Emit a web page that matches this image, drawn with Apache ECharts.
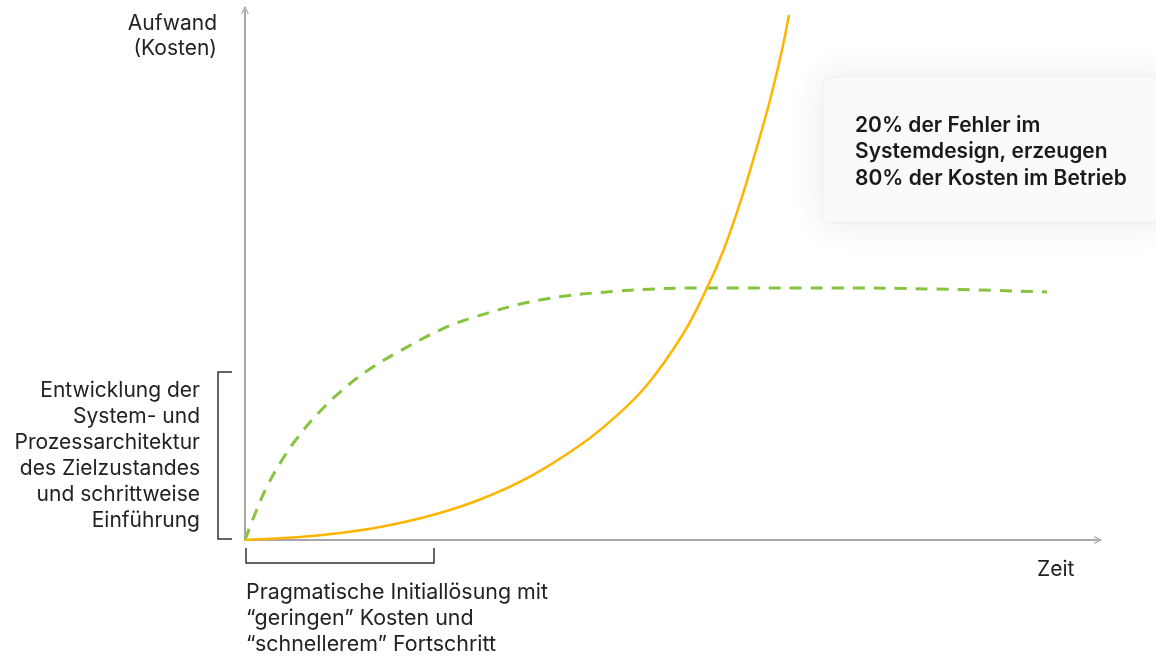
<!DOCTYPE html>
<html>
<head>
<meta charset="utf-8">
<script src="https://cdn.jsdelivr.net/npm/echarts@6/dist/echarts.min.js"></script>
<style>
  html, body { margin: 0; padding: 0; background: #fff; }
  #chart { width: 1156px; height: 657px; }
</style>
</head>
<body>
<div id="chart"></div>
<script>
// Zeit (x) und Aufwand (y), Skala 0..100
const kostenX = [0, 6.45, 11.14, 15.83, 21.69, 27.55, 33.41, 39.27, 43.14, 47.13, 51.35, 54.16, 56.15, 58.15, 59.91, 61.55, 62.95, 63.77];
const kostenY = [0, 0.57, 1.32, 2.45, 4.57, 7.64, 11.96, 17.87, 22.85, 29.26, 38.87, 47.55, 54.91, 64.15, 73.58, 83.02, 92.45, 99.06];

const entwX = [0, 1.17, 2.58, 4.34, 6.21, 8.56, 11.14, 14.3, 18.17, 22.86, 26.73, 34.58, 43.96, 54.16, 68.93, 80.66, 94.02];
const entwY = [0, 4.91, 10.09, 15.09, 19.43, 23.87, 27.92, 31.89, 35.66, 39.62, 41.98, 45.28, 46.98, 47.55, 47.55, 47.36, 46.79];

const kosten = kostenX.map((x, i) => [x, kostenY[i]]);
const entwicklung = entwX.map((x, i) => [x, entwY[i]]);

const font = 'Inter, "Noto Sans", sans-serif';
const textColor = '#222';
// offener Pfeil (Chevron) fuer die Achsenenden
const chevron = 'path://M0,10 L5,0 L10,10 L9,10.8 L5,2.4 L1,10.8 Z';

const chart = echarts.init(document.getElementById('chart'));
chart.setOption({
  animation: false,
  grid: { left: 245, right: 58, top: 10, bottom: 117 },
  xAxis: {
    type: 'value', min: 0, max: 100,
    axisLine: { lineStyle: { color: '#8a8a8a', width: 1.5 }, symbol: ['none', chevron], symbolSize: [11, 8] },
    axisTick: { show: false }, axisLabel: { show: false }, splitLine: { show: false }
  },
  yAxis: {
    type: 'value', min: 0, max: 100,
    axisLine: { show: true, lineStyle: { color: '#8a8a8a', width: 1.5 }, symbol: ['none', chevron], symbolSize: [11, 8] },
    axisTick: { show: false }, axisLabel: { show: false }, splitLine: { show: false }
  },
  series: [
    {
      type: 'line', data: entwicklung, smooth: 0.4, showSymbol: false,
      lineStyle: { color: '#86c440', width: 3, type: [12, 9] }, z: 3
    },
    {
      type: 'line', data: kosten, smooth: 0.4, showSymbol: false,
      lineStyle: { color: '#ffb400', width: 2.5 }, z: 4
    }
  ],
  graphic: [
    {
      type: 'rect', z: 0,
      shape: { x: 823, y: 77, width: 350, height: 146, r: 6 },
      style: { fill: '#fafafa', stroke: '#eeeeee', lineWidth: 1, shadowBlur: 36, shadowColor: 'rgba(0,0,0,0.09)' }
    },
    {
      type: 'text', x: 855, y: 112, z: 10,
      style: {
        text: '20% der Fehler im\nSystemdesign, erzeugen\n80% der Kosten im Betrieb',
        font: '600 21px ' + font, lineHeight: 26.5, fill: '#1a1a1a',
        textAlign: 'left', textVerticalAlign: 'top'
      }
    },
    {
      type: 'text', x: 217, y: 11.5, z: 10,
      style: {
        text: 'Aufwand\n(Kosten)', font: '21px ' + font, lineHeight: 25, fill: textColor,
        textAlign: 'right', textVerticalAlign: 'top'
      }
    },
    {
      type: 'text', x: 200, y: 378, z: 10,
      style: {
        text: 'Entwicklung der\nSystem- und\nProzessarchitektur\ndes Zielzustandes\nund schrittweise\nEinführung',
        font: '21px ' + font, lineHeight: 26, fill: textColor,
        textAlign: 'right', textVerticalAlign: 'top'
      }
    },
    {
      type: 'text', x: 246, y: 580, z: 10,
      style: {
        text: 'Pragmatische Initiallösung mit\n\u201cgeringen\u201d Kosten und\n\u201cschnellerem\u201d Fortschritt',
        font: '21.4px ' + font, lineHeight: 26, fill: textColor,
        textAlign: 'left', textVerticalAlign: 'top'
      }
    },
    {
      type: 'text', x: 1037, y: 559, z: 10,
      style: { text: 'Zeit', font: '21px ' + font, fill: textColor, textAlign: 'left', textVerticalAlign: 'top' }
    },
    {
      type: 'polyline', z: 10,
      shape: { points: [[232, 372], [218, 372], [218, 539], [232, 539]] },
      style: { stroke: '#333', lineWidth: 1.5, fill: null }
    },
    {
      type: 'polyline', z: 10,
      shape: { points: [[246, 548], [246, 563], [434, 563], [434, 548]] },
      style: { stroke: '#333', lineWidth: 1.5, fill: null }
    }
  ]
});
</script>
</body>
</html>
